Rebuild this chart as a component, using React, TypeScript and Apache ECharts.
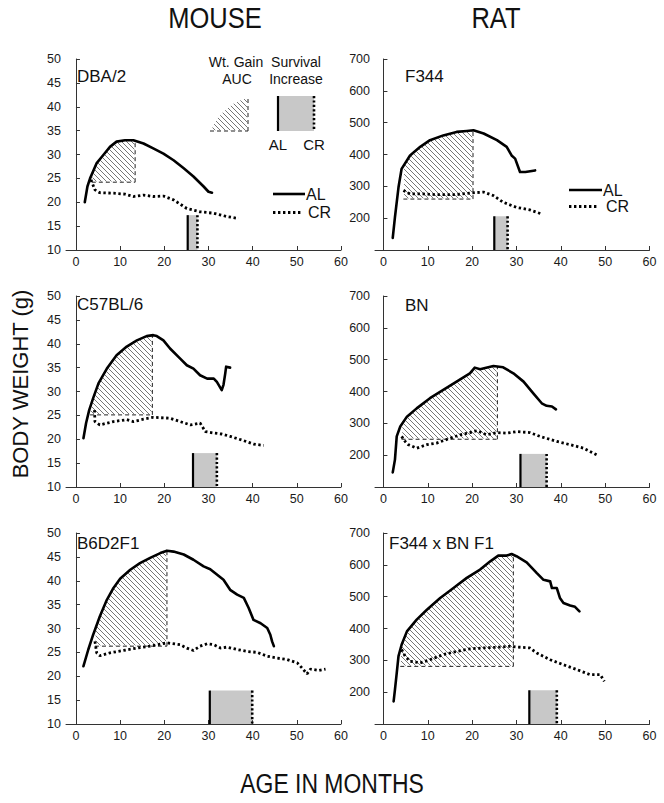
import React, { useEffect, useRef } from "react";
import * as echarts from "echarts";

// ---------- DATA ----------
const xTicks = [0, 10, 20, 30, 40, 50, 60];
const mouseYRange = [10, 50, 5];
const ratYRange = [100, 700, 100];

// DBA/2 (mouse)
const dbaAL = [[2, 20], [2.6, 23.3], [3.2, 25], [4.7, 28.2], [6.2, 29.9], [7.7, 31.6], [9.2, 32.7], [11.1, 33], [13, 33], [15.3, 32.3], [17.5, 31.3], [19.8, 30.2], [22.1, 28.8], [24.4, 27.1], [26.6, 25.4], [28.9, 23.3], [30, 22.2], [30.8, 22]];
const dbaCR = [[3.4, 24.7], [4.3, 22.6], [5.4, 22], [8.5, 21.9], [11.1, 21.7], [13, 21.2], [15.3, 21.5], [17.5, 21.2], [19.8, 21.3], [22.1, 20.5], [25.1, 18.7], [28.1, 18], [31.2, 17.7], [34.2, 17], [36.8, 16.6]];
const dbaAUC = [3.6, 13.4, 24.2]; // start age, end age, baseline weight
const dbaSurv = [25.3, 27.5, 17.3]; // AL median, CR median, bar top

// F344 (rat)
const f344AL = [[2.1, 138], [2.6, 203], [3.4, 297], [4.1, 355], [6, 397], [8.3, 424], [10.5, 445], [13.5, 460], [16.5, 471], [18.8, 474], [20.3, 476], [22.6, 466], [25.6, 445], [27.8, 424], [28.9, 397], [29.7, 387], [30.8, 345], [32, 345], [34.2, 350]];
const f344CR = [[4.5, 287], [6, 276], [9, 276], [12, 274], [16.5, 274], [19.5, 279], [22.6, 282], [24.8, 271], [27, 250], [30, 234], [33, 226], [35.7, 213]];
const f344AUC = [4.5, 20.2, 260];
const f344Surv = [25, 28, 206];

// C57BL/6 (mouse)
const c57AL = [[1.7, 20.2], [2.3, 23.4], [3, 26.1], [3.9, 28.6], [5.1, 31.7], [7, 34.8], [9.2, 37.6], [11.5, 39.4], [13.8, 40.7], [16, 41.6], [17.5, 41.8], [18.3, 41.6], [19.8, 40.7], [21.3, 39], [23.6, 36.9], [25.1, 35.5], [26.6, 34.8], [28.1, 33.4], [29.7, 32.7], [31.2, 32.7], [31.9, 32], [33, 30.3], [33.4, 31.4], [33.8, 33.8], [34, 35.2], [34.9, 35]];
const c57CR = [[4.2, 26.1], [4.3, 23.7], [5.4, 23], [8.5, 23.7], [11.5, 24.1], [13, 23.7], [15.3, 24.2], [17.5, 24.6], [21.3, 24.4], [23.6, 23.7], [25.9, 23], [28.1, 23.4], [29.3, 21.6], [31.2, 21.3], [33, 21.1], [34.9, 20.6], [38, 19.7], [40.2, 19], [42.5, 18.7]];
const c57AUC = [3.2, 17.3, 25.1];
const c57Surv = [26.5, 31.9, 17.1];

// BN (rat)
const bnAL = [[2.1, 146], [2.6, 186], [3, 259], [3.8, 290], [5.3, 321], [7.5, 347], [10.5, 379], [13.5, 405], [16.5, 431], [19.5, 457], [20.6, 475], [21.8, 470], [24.8, 480], [27, 476], [29.3, 457], [31.6, 431], [33.8, 394], [35.7, 363], [36.8, 355], [38, 353], [38.9, 344]];
const bnCR = [[4.1, 259], [4.9, 243], [5.6, 233], [7.5, 222], [9.8, 233], [12, 238], [15, 253], [17.3, 264], [19.5, 271], [21.1, 277], [23.3, 264], [25.6, 271], [27.8, 269], [30, 274], [33, 271], [35.3, 259], [39.1, 243], [42.1, 233], [45.1, 222], [48.1, 201]];
const bnAUC = [4.1, 25.7, 250];
const bnSurv = [30.9, 36.8, 204];

// B6D2F1 (mouse)
const b6AL = [[1.7, 22.1], [2.8, 25.6], [3.9, 28.7], [5.4, 32.5], [7, 36], [8.5, 38.5], [10, 40.4], [12.3, 42.3], [14.5, 43.7], [16.8, 44.8], [19.1, 45.8], [20.6, 46.3], [22.1, 46.1], [24.4, 45.5], [26.6, 44.4], [28.9, 43], [30.4, 42.4], [31.9, 41.3], [33.4, 40.2], [34.9, 38.1], [36.5, 37.1], [38, 36.4], [39.1, 34.3], [40.2, 31.8], [41.8, 31.1], [43.3, 30.1], [44, 28.7], [44.4, 27.3], [44.8, 26.3]];
const b6CR = [[4.3, 27.3], [4.7, 24.9], [5.4, 24.3], [7.7, 24.9], [10.7, 25.4], [13.8, 25.9], [16.8, 26.3], [20.6, 27], [23.6, 26.6], [25.1, 25.9], [26.6, 25.4], [28.1, 26.3], [29.7, 26.8], [31.2, 26.6], [32.7, 25.9], [34.2, 26.1], [36.5, 25.6], [38.7, 25.2], [41, 25], [43.3, 24.2], [45.5, 23.8], [47.8, 23.5], [50.1, 22.8], [51.2, 21.7], [52.3, 20.5], [53.1, 21.5], [55, 21.2], [56.5, 21.5]];
const b6AUC = [4.3, 20.6, 26.3];
const b6Surv = [30.3, 39.9, 17.0];

// F344 x BN F1 (rat)
const fbnAL = [[2.3, 171], [2.6, 208], [3, 260], [3.4, 313], [4.1, 349], [5.3, 391], [7.5, 428], [9.8, 459], [12.8, 496], [15.8, 527], [18.8, 559], [21.8, 585], [24.1, 611], [25.9, 629], [27.8, 629], [28.9, 634], [30, 627], [32.3, 608], [34.6, 574], [36.1, 553], [37.6, 548], [38, 527], [39.1, 527], [39.8, 496], [40.6, 480], [42.1, 472], [43.2, 468], [44.2, 454]];
const fbnCR = [[4.1, 334], [4.9, 313], [6, 297], [8.3, 292], [10.5, 302], [13.5, 318], [16.5, 328], [19.5, 336], [22.6, 339], [25.6, 341], [28.6, 344], [30, 342], [33, 339], [34.6, 323], [37.6, 302], [40.6, 286], [43.6, 271], [46.6, 255], [48.9, 255], [49.8, 234]];
const fbnAUC = [3.8, 29.3, 281];
const fbnSurv = [32.9, 39.1, 206];

const panelLabels = ["DBA/2", "F344", "C57BL/6", "BN", "B6D2F1", "F344 x BN F1"];

// ---------- LAYOUT / STYLE ----------
const FONT = "'Liberation Sans', Arial, Helvetica, sans-serif";
const rowTops = [59, 296, 533];
const rowH = 191;
const colLefts = [66, 375];
const colW = [275, 274.5];
const colXMin = [-2.25, -1.9];

const panels = [
  { al: dbaAL, cr: dbaCR, auc: dbaAUC, surv: dbaSurv, rat: false },
  { al: f344AL, cr: f344CR, auc: f344AUC, surv: f344Surv, rat: true },
  { al: c57AL, cr: c57CR, auc: c57AUC, surv: c57Surv, rat: false },
  { al: bnAL, cr: bnCR, auc: bnAUC, surv: bnSurv, rat: true },
  { al: b6AL, cr: b6CR, auc: b6AUC, surv: b6Surv, rat: false },
  { al: fbnAL, cr: fbnCR, auc: fbnAUC, surv: fbnSurv, rat: true },
];

function interp(arr: number[][], x: number) {
  for (let i = 0; i < arr.length - 1; i++) {
    const a = arr[i], b = arr[i + 1];
    if (x >= a[0] && x <= b[0]) {
      const t = (x - a[0]) / (b[0] - a[0] || 1);
      return a[1] + t * (b[1] - a[1]);
    }
  }
  return x < arr[0][0] ? arr[0][1] : arr[arr.length - 1][1];
}

function hatchSegments(poly: number[][], step: number, shrink: number) {
  const ds = poly.map((p) => p[0] - p[1]);
  const minD = Math.min(...ds), maxD = Math.max(...ds);
  const segs: number[][][] = [];
  for (let c = Math.ceil(minD / step) * step; c <= maxD; c += step) {
    const hits: number[][] = [];
    for (let i = 0; i < poly.length; i++) {
      const j = (i + 1) % poly.length;
      const P = poly[i], Q = poly[j];
      const dP = ds[i], dQ = ds[j];
      if ((dP <= c && dQ > c) || (dQ <= c && dP > c)) {
        const t = (c - dP) / (dQ - dP);
        hits.push([P[0] + t * (Q[0] - P[0]), P[1] + t * (Q[1] - P[1])]);
      }
    }
    hits.sort((a, b) => a[0] - b[0]);
    for (let k = 0; k + 1 < hits.length; k += 2) {
      const a = hits[k], b = hits[k + 1];
      const len = Math.hypot(b[0] - a[0], b[1] - a[1]);
      if (len <= 2 * shrink + 0.5) continue;
      const ux = (b[0] - a[0]) / len, uy = (b[1] - a[1]) / len;
      segs.push([[a[0] + ux * shrink, a[1] + uy * shrink], [b[0] - ux * shrink, b[1] - uy * shrink]]);
    }
  }
  return segs;
}

function hatchLines(poly: number[][]) {
  return hatchSegments(poly, 5, 1).map((s) => ({
    type: "line",
    shape: { x1: s[0][0], y1: s[0][1], x2: s[1][0], y2: s[1][1] },
    style: { stroke: "#666", lineWidth: 0.9 },
  }));
}

function buildOption() {
  const grid: any[] = [], xAxis: any[] = [], yAxis: any[] = [], series: any[] = [];
  panels.forEach((p, i) => {
    const row = Math.floor(i / 2), col = i % 2;
    const yr = p.rat ? ratYRange : mouseYRange;
    grid.push({ left: colLefts[col], top: rowTops[row], width: colW[col], height: rowH });
    xAxis.push({
      type: "value", gridIndex: i, min: colXMin[col], max: 60,
      axisLine: { lineStyle: { color: "#333", width: 1 } },
      axisTick: { inside: true, length: 4, customValues: xTicks, lineStyle: { color: "#333" } },
      axisLabel: { customValues: xTicks, fontSize: 12.5, color: "#1a1a1a", margin: 5, fontFamily: FONT },
      splitLine: { show: false },
    });
    yAxis.push({
      type: "value", gridIndex: i, min: yr[0], max: yr[1], interval: yr[2],
      axisLine: { show: true, lineStyle: { color: "#333", width: 1 } },
      axisTick: { show: true, inside: true, length: 4, lineStyle: { color: "#333" } },
      axisLabel: { fontSize: 12.5, color: "#1a1a1a", margin: 5, fontFamily: FONT, showMinLabel: !p.rat },
      splitLine: { show: false },
    });
    const yMin = yr[0];
    // Weight gain AUC (hatched)
    series.push({
      type: "custom", xAxisIndex: i, yAxisIndex: i, z: 2, silent: true,
      data: [[p.auc[0], p.auc[2], p.auc[1]]],
      encode: { x: [0, 2], y: 1 },
      renderItem: (params: any, api: any) => {
        const [x0, x1, base] = p.auc;
        const poly: number[][] = [[x0, base]];
        const y0 = interp(p.al, x0);
        if (y0 > base) poly.push([x0, y0]);
        p.al.forEach((pt) => { if (pt[0] > x0 && pt[0] < x1 && pt[1] >= base) poly.push(pt); });
        const yEnd = interp(p.al, x1);
        poly.push([x1, yEnd]);
        poly.push([x1, base]);
        const px = poly.map((q) => api.coord(q));
        const b0 = api.coord([x0, base]), b1 = api.coord([x1, base]), t1 = api.coord([x1, yEnd]);
        return {
          type: "group",
          children: [
            ...hatchLines(px),
            { type: "line", shape: { x1: b0[0], y1: b0[1], x2: b1[0], y2: b1[1] }, style: { stroke: "#222", lineWidth: 1, lineDash: [4, 3] } },
            { type: "line", shape: { x1: b1[0], y1: b1[1], x2: t1[0], y2: t1[1] }, style: { stroke: "#222", lineWidth: 1, lineDash: [4, 3] } },
          ],
        };
      },
    });
    // Survival increase bar
    series.push({
      type: "custom", xAxisIndex: i, yAxisIndex: i, z: 2, silent: true,
      data: [[p.surv[0], p.surv[2], p.surv[1]]],
      encode: { x: [0, 2], y: 1 },
      renderItem: (params: any, api: any) => {
        const a = api.coord([p.surv[0], p.surv[2]]);
        const b = api.coord([p.surv[1], yMin]);
        return {
          type: "group",
          children: [
            { type: "rect", shape: { x: a[0], y: a[1], width: b[0] - a[0], height: b[1] - a[1] }, style: { fill: "#c8c8c8" } },
            { type: "line", shape: { x1: a[0], y1: a[1], x2: a[0], y2: b[1] }, style: { stroke: "#000", lineWidth: 2.2 } },
            { type: "line", shape: { x1: b[0], y1: a[1], x2: b[0], y2: b[1] }, style: { stroke: "#000", lineWidth: 2.6, lineDash: [2.2, 2.2] } },
          ],
        };
      },
    });
    series.push({
      type: "line", xAxisIndex: i, yAxisIndex: i, data: p.al, z: 4, silent: true,
      symbol: "none", showSymbol: false, smooth: false,
      lineStyle: { color: "#000", width: 2.6, join: "round", cap: "round" },
    });
    series.push({
      type: "line", xAxisIndex: i, yAxisIndex: i, data: p.cr, z: 4, silent: true,
      symbol: "none", showSymbol: false, smooth: false,
      lineStyle: { color: "#000", width: 2.8, type: [2.4, 2.6] },
    });
  });

  const txt = (text: string, x: number, y: number, size: number, align = "left", extra: any = {}) => ({
    type: "text", x, y, silent: true, ...extra,
    style: { text, fontSize: size, fontFamily: FONT, fill: "#111", align, verticalAlign: "middle" },
  });
  const ln = (x1: number, y1: number, x2: number, y2: number, w: number, dash?: number[], color = "#000") => ({
    type: "line", silent: true, shape: { x1, y1, x2, y2 },
    style: { stroke: color, lineWidth: w, lineDash: dash },
  });

  const labelPos = [[77, 76], [405, 76], [77, 304], [405, 305], [77, 543], [389, 543]];
  const iconPoly = [[210, 131], [213, 124], [218, 116], [225, 109], [233, 103], [241, 99], [248, 97], [248, 131]];

  const graphic: any[] = [
    txt("MOUSE", 215, 18, 30, "center", { scaleX: 0.85 }),
    txt("RAT", 496, 18, 30, "center", { scaleX: 0.85 }),
    txt("BODY WEIGHT (g)", 20, 384, 22, "center", { rotation: Math.PI / 2 }),
    txt("AGE IN MONTHS", 332, 783, 27, "center", { scaleX: 0.85 }),
    ...panelLabels.map((t, i) => txt(t, labelPos[i][0], labelPos[i][1], 17)),
    // legends
    ln(273, 194, 305, 194, 2.6), txt("AL", 306, 194, 16),
    ln(273, 212.5, 302, 212.5, 2.8, [2.4, 2.6]), txt("CR", 308, 212.5, 16),
    ln(569, 190, 602, 190, 2.6), txt("AL", 603, 190, 16),
    ln(569, 206.5, 599, 206.5, 2.8, [2.4, 2.6]), txt("CR", 606, 206.5, 16),
    // inset: weight gain AUC
    txt("Wt. Gain", 236, 62, 14, "center"),
    txt("AUC", 237, 79, 14, "center"),
    ...hatchLines(iconPoly),
    ln(210, 131, 248, 131, 1, [4, 3], "#222"),
    ln(248, 131, 248, 97, 1, [4, 3], "#222"),
    // inset: survival increase
    txt("Survival", 296, 62, 14, "center"),
    txt("Increase", 296, 79, 14, "center"),
    { type: "rect", silent: true, shape: { x: 278, y: 96, width: 36, height: 35 }, style: { fill: "#c8c8c8" } },
    ln(278, 96, 278, 131, 2.2),
    ln(314, 96, 314, 131, 2.6, [2.2, 2.2]),
    txt("AL", 278, 144, 15, "center"),
    txt("CR", 314, 144, 15, "center"),
  ];

  return {
    animation: false,
    backgroundColor: "#fff",
    grid, xAxis, yAxis, series, graphic,
  };
}

export default function App() {
  const ref = useRef<HTMLDivElement>(null);
  useEffect(() => {
    const chart = echarts.init(ref.current!, null, { renderer: "svg" });
    chart.setOption(buildOption() as any);
    return () => chart.dispose();
  }, []);
  return (
    <div
      ref={ref}
      style={{ position: "absolute", left: 0, top: 0, width: 664, height: 803, background: "#fff" }}
    />
  );
}
